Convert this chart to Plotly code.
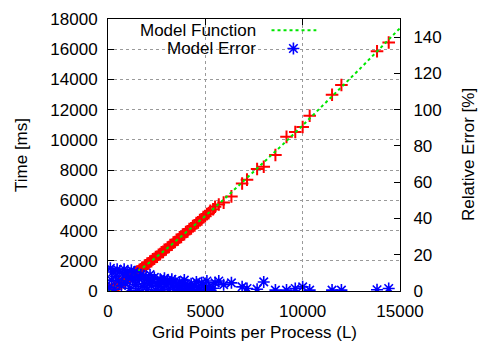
import plotly.graph_objects as go

# Measurements: grid points per process (L)
meas_L = [60, 120, 180, 250, 330, 400, 470, 540, 610, 690, 760, 830, 900, 980, 1050,
          1120, 1200, 1270, 1340, 1420, 1490, 1560, 1620, 1690, 1750, 1820, 1890, 1950,
          2020, 2090, 2160, 2230, 2300, 2380, 2450, 2520, 2600, 2680, 2750, 2830, 2900,
          2980, 3060, 3130, 3200, 3280, 3360, 3440, 3520, 3600, 3680, 3760, 3840, 3920,
          4000, 4090, 4180, 4270, 4360, 4450, 4540, 4630, 4720, 4810, 4900, 4990, 5080,
          5170, 5260, 5400, 5500, 5690, 5940, 6340, 6890, 7140, 7660, 8000, 8600, 9170,
          9620, 10000, 10360, 11510, 11990, 13820, 14420]

# Measured time [ms]
meas_T = [40, 60, 120, 150, 240, 270, 350, 380, 470, 500, 600, 620, 730, 760, 860,
          880, 1000, 1020, 1130, 1170, 1280, 1300, 1400, 1440, 1540, 1560, 1680, 1700,
          1810, 1830, 1950, 1980, 2090, 2130, 2250, 2270, 2400, 2440, 2560, 2590, 2720,
          2750, 2880, 2910, 3040, 3060, 3200, 3240, 3380, 3410, 3550, 3580, 3730, 3760,
          3900, 3940, 4100, 4140, 4300, 4340, 4500, 4540, 4700, 4740, 4900, 4950, 5100,
          5150, 5310, 5410, 5580, 5720, 5850, 6260, 7110, 7370, 8070, 8220, 9000, 10200,
          10520, 10850, 11600, 12990, 13630, 15870, 16440]

# Relative model error [%]
err_pct = [2.0, 12.5, 6.0, 10.5, 1.0, 8.0, 12.0, 5.5, 11.0, 3.0, 9.5, 12.0, 4.5, 10.0, 7.5,
           1.5, 11.5, 6.0, 10.5, 3.5, 8.0, 0.5, 6.5, 9.0, 2.5, 8.5, 4.0, 7.0,
           1.0, 6.0, 9.0, 3.0, 5.0, 7.5, 0.5, 4.5, 2.5, 6.5, 5.0, 1.0, 7.0,
           3.5, 6.0, 0.8, 4.5, 6.5, 2.0, 5.5, 3.0, 0.5, 5.0, 2.5, 4.0, 6.0,
           1.0, 3.5, 1.5, 4.0, 0.5, 3.0, 5.0, 2.0, 0.5, 4.5, 3.0, 1.0, 5.5,
           2.0, 0.5, 1.5, 4.5, 5.5, 3.5, 4.5, 2.3, 1.4, 1.0, 5.0, 0.5, 0.5,
           1.4, 2.3, 0.5, 0.5, 0.5, 0.7, 1.4]

# Model function curve
model_L = [0, 500, 1000, 1500, 2000, 3000, 4000, 5000, 6000, 7000, 8000, 9000,
           10000, 11000, 12000, 13000, 14000, 15000]
model_T = [0, 360, 790, 1260, 1750, 2780, 3860, 4970, 6120, 7300, 8500, 9720,
           10960, 12220, 13500, 14780, 16090, 17400]

x_ticks = [0, 5000, 10000, 15000]
legend_labels = ["Model Function", "Model Error"]

FONT = "Liberation Sans, Arial, sans-serif"
RED = "#ff0000"
GREEN = "#00e600"
BLUE = "#0000ff"

fig = go.Figure()
fig.add_trace(go.Scatter(
    x=meas_L, y=meas_T, mode="markers", showlegend=False,
    marker=dict(symbol="cross-thin-open", size=9, color=RED,
                line=dict(color=RED, width=2))))
fig.add_trace(go.Scatter(
    x=meas_L, y=err_pct, yaxis="y2", mode="markers", showlegend=False,
    marker=dict(symbol="asterisk-open", size=10, color=BLUE,
                line=dict(color=BLUE, width=1.6))))
fig.add_trace(go.Scatter(
    x=model_L, y=model_T, mode="lines", showlegend=False,
    line=dict(color=GREEN, width=2, dash="dot")))

# legend glyph for "Model Error" on an overlay unit axis
fig.add_trace(go.Scatter(
    x=[0.635], y=[0.8915], xaxis="x3", yaxis="y3", mode="markers", showlegend=False,
    marker=dict(symbol="asterisk-open", size=10, color=BLUE,
                line=dict(color=BLUE, width=1.6)), hoverinfo="skip"))

axis_common = dict(
    showline=True, linecolor="black", linewidth=1,
    ticks="inside", ticklen=6, tickcolor="black", tickwidth=1,
    zeroline=False, tickformat="d",
    tickfont=dict(family=FONT, size=17, color="black"),
)

fig.update_layout(
    width=478, height=349,
    margin=dict(l=108, r=78, t=10, b=58),
    paper_bgcolor="white", plot_bgcolor="white",
    font=dict(family=FONT, size=17, color="black"),
    xaxis=dict(range=[0, 15000], tickvals=x_ticks, mirror="ticks",
               showgrid=True, gridcolor="#9a9a9a", griddash="dot", gridwidth=1,
               ticklabelstandoff=5, **axis_common),
    yaxis=dict(range=[0, 18000], dtick=2000, mirror=True,
               showgrid=True, gridcolor="#9a9a9a", griddash="dot", gridwidth=1,
               ticklabelstandoff=6, **axis_common),
    yaxis2=dict(range=[0, 150], dtick=20, overlaying="y", side="right",
                showgrid=False, ticklabelstandoff=9, **axis_common),
    xaxis3=dict(range=[0, 1], overlaying="x", visible=False, anchor="y3"),
    yaxis3=dict(range=[0, 1], overlaying="y", visible=False, anchor="x3"),
    shapes=[dict(type="line", xref="paper", yref="paper",
                 x0=0.560, x1=0.7135, y0=0.9587, y1=0.9587,
                 line=dict(color=GREEN, width=2, dash="dot"))],
    annotations=[
        dict(text=legend_labels[0], xref="paper", yref="paper", x=0.5149, y=0.9591,
             xanchor="right", yanchor="middle", showarrow=False),
        dict(text=legend_labels[1], xref="paper", yref="paper", x=0.5149, y=0.8915,
             xanchor="right", yanchor="middle", showarrow=False),
        dict(text="Time [ms]", xref="paper", yref="paper", x=-0.298, y=0.5,
             textangle=-90, xanchor="center", yanchor="middle", showarrow=False),
        dict(text="Relative Error [%]", xref="paper", yref="paper", x=1.233, y=0.5,
             textangle=-90, xanchor="center", yanchor="middle", showarrow=False),
        dict(text="Grid Points per Process (L)", xref="paper", yref="paper", x=0.5,
             y=-0.151, xanchor="center", yanchor="middle", showarrow=False),
    ],
)

fig.write_html("out.html")
